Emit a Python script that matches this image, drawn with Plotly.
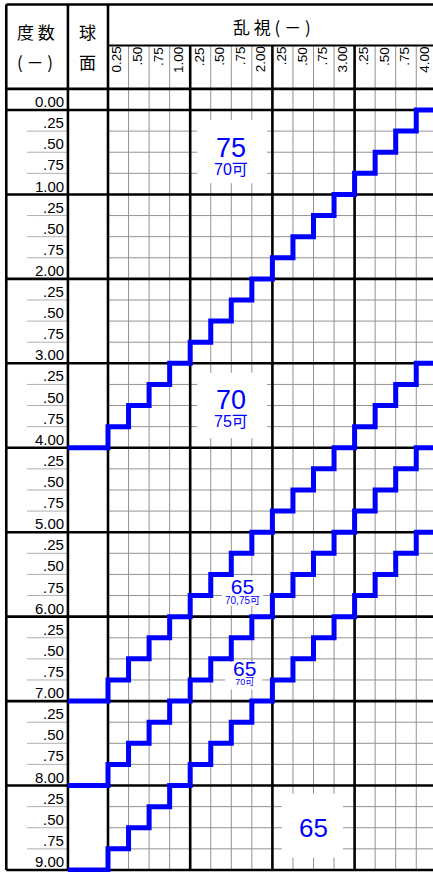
import plotly.graph_objects as go

# ---------------- data ----------------
ROW_LABELS = ["0.00",
              ".25", ".50", ".75", "1.00", ".25", ".50", ".75", "2.00",
              ".25", ".50", ".75", "3.00", ".25", ".50", ".75", "4.00",
              ".25", ".50", ".75", "5.00", ".25", ".50", ".75", "6.00",
              ".25", ".50", ".75", "7.00", ".25", ".50", ".75", "8.00",
              ".25", ".50", ".75", "9.00"]
COL_LABELS = ["0.25", ".50", ".75", "1.00", ".25", ".50", ".75", "2.00",
              ".25", ".50", ".75", "3.00", ".25", ".50", ".75", "4.00"]
STEP = 0.25
# boundary lines (sphere + cylinder = constant); value = sphere power where line meets cyl 0
STAIR_END_SPHERE = [4.00, 7.00, 8.00, 9.00]
ZONE_MAIN = ["75", "70", "65", "65", "65"]
ZONE_SUB = ["70可", "75可", "70,75可", "70可", ""]
HEAD_LEFT = ["度 数", "( － )"]
HEAD_MID = ["球", "面"]
HEAD_TOP = "乱 視 ( － )"

# ---------------- geometry / style (grid units: 1 col, 1 row) ----------------
N_ROWS = len(ROW_LABELS) - 1
N_COLS = len(COL_LABELS)
GROUP = 4
X_LEFT, X_SPH, X_ROWLINE = -4.95, -1.95, -3.94
X_RIGHT = N_COLS
Y_TOP, Y_TITLE, Y_HEAD = -5.0, -3.05, -1.0

# zone label placement:
# (text x, text y, box cx, box cy, box w, box h, main size, sub size, line-spacing base size)
ZONE_POS = [
    (5.97, 2.16, 6.04, 1.97, 3.4, 3.0, 27, 16, 13.5),
    (5.97, 14.08, 6.04, 14.0, 3.4, 3.1, 27, 16, 13.5),
    (6.53, 22.77, 6.55, 22.78, 2.0, 1.4, 21, 10, 7.7),
    (6.62, 26.62, 6.6, 26.8, 1.8, 1.3, 21, 9, 6.9),
    (9.98, 33.99, 9.95, 33.9, 2.97, 3.03, 26, 0, 26),
]

BLUE = "#0000ff"
NUM_FONT = "Liberation Sans, Arial, Noto Sans CJK JP, sans-serif"
CJK_FONT = "Noto Sans CJK JP, sans-serif"

fig = go.Figure()


def add_lines(xs, ys, color, width):
    fig.add_trace(go.Scatter(x=xs, y=ys, mode="lines", line=dict(color=color, width=width),
                             hoverinfo="skip", showlegend=False))


# thin grid lines (body + sub-header)
tx, ty = [], []
for c in range(1, N_COLS):
    if c % GROUP:
        tx += [c, c, None]
        ty += [Y_TITLE, N_ROWS, None]
for r in range(1, N_ROWS):
    if r % GROUP:
        tx += [0, X_RIGHT, None]
        ty += [r, r, None]
add_lines(tx, ty, "#939393", 1)

# thin row lines in the power column
lx, ly = [], []
for r in range(1, N_ROWS):
    if r % GROUP:
        lx += [X_ROWLINE, X_SPH, None]
        ly += [r, r, None]
add_lines(lx, ly, "#b0b0b0", 1)

# white label boxes
for (mx, my, bx, by, bw, bh, ms, ss, base) in ZONE_POS:
    fig.add_trace(go.Scatter(
        x=[bx - bw / 2, bx + bw / 2, bx + bw / 2, bx - bw / 2, bx - bw / 2],
        y=[by - bh / 2, by - bh / 2, by + bh / 2, by + bh / 2, by - bh / 2],
        mode="lines", fill="toself", fillcolor="white", line=dict(width=0, color="white"),
        hoverinfo="skip", showlegend=False))

# thick frame lines
kx, ky = [], []
for r in [Y_TOP, Y_HEAD] + list(range(0, N_ROWS + 1, GROUP)):
    kx += [X_LEFT, X_RIGHT, None]
    ky += [r, r, None]
for c in [X_LEFT, X_SPH, 0]:
    kx += [c, c, None]
    ky += [Y_TOP, N_ROWS, None]
for c in range(GROUP, N_COLS + 1, GROUP):
    kx += [c, c, None]
    ky += [Y_TITLE, N_ROWS, None]
add_lines(kx, ky, "#000000", 2.6)
add_lines([0, X_RIGHT], [Y_TITLE, Y_TITLE], "#000000", 2)

# staircase boundaries
for end_sph in STAIR_END_SPHERE:
    k_end = round(end_sph / STEP)
    xs = [N_COLS]
    ys = [k_end - N_COLS]
    for c in range(N_COLS, 0, -1):
        xs += [c - 1, c - 1]
        ys += [k_end - c, k_end - c + 1]
    xs.append(X_SPH)
    ys.append(k_end)
    add_lines(xs, ys, BLUE, 5)

ann = []
# row labels
for k, lab in enumerate(ROW_LABELS):
    ann.append(dict(x=-2.08, y=k - 0.4, text=lab, xanchor="right", yanchor="middle",
                    showarrow=False, borderpad=0,
                    font=dict(family=NUM_FONT, size=15, color="black")))
# column labels (rotated)
for c, lab in enumerate(COL_LABELS):
    ann.append(dict(x=c + 0.5, y=-3.0, text=lab, textangle=-90, xanchor="center", yanchor="top",
                    xshift=-1.5, showarrow=False, borderpad=0, borderwidth=0,
                    font=dict(family=NUM_FONT, size=13.5, color="black")))
# headers
ann.append(dict(x=-3.50, y=-3.74, text=HEAD_LEFT[0], showarrow=False,
                font=dict(family=CJK_FONT, size=17, color="black")))
ann.append(dict(x=-3.53, y=-2.29, text=HEAD_LEFT[1], showarrow=False,
                font=dict(family=CJK_FONT, size=17, color="black")))
ann.append(dict(x=-1.02, y=-3.74, text=HEAD_MID[0], showarrow=False,
                font=dict(family=CJK_FONT, size=17, color="black")))
ann.append(dict(x=-1.02, y=-2.29, text=HEAD_MID[1], showarrow=False,
                font=dict(family=CJK_FONT, size=17, color="black")))
ann.append(dict(x=8.0, y=-3.95, text=HEAD_TOP, showarrow=False,
                font=dict(family=CJK_FONT, size=17, color="black")))
# zone labels
for main, sub, (mx, my, bx, by, bw, bh, ms, ss, base) in zip(ZONE_MAIN, ZONE_SUB, ZONE_POS):
    if sub:
        txt = (f"<span style='font-size:{ms}px'>{main}</span><br>"
               f"<span style='font-size:{ss}px'>{sub}</span>")
    else:
        txt = main
    ann.append(dict(x=mx, y=my, text=txt, showarrow=False, borderpad=0, borderwidth=0,
                    align="center",
                    font=dict(family=NUM_FONT, size=base, color=BLUE)))

W, H = 433, 872
PX_X, PX_Y = 20.55, 21.11
X0_PX, Y0_PX = 108, 110
fig.update_layout(
    width=W, height=H, autosize=False,
    margin=dict(l=0, r=0, t=0, b=0, pad=0),
    paper_bgcolor="white", plot_bgcolor="white",
    xaxis=dict(range=[-X0_PX / PX_X, (W - X0_PX) / PX_X], visible=False, fixedrange=True),
    yaxis=dict(range=[(H - Y0_PX) / PX_Y, -Y0_PX / PX_Y], visible=False, fixedrange=True),
    annotations=ann,
    showlegend=False,
)

fig.write_html("out.html", config={"displayModeBar": False, "staticPlot": True},
               post_script="document.body.style.margin='0';document.body.style.overflow='hidden';")
